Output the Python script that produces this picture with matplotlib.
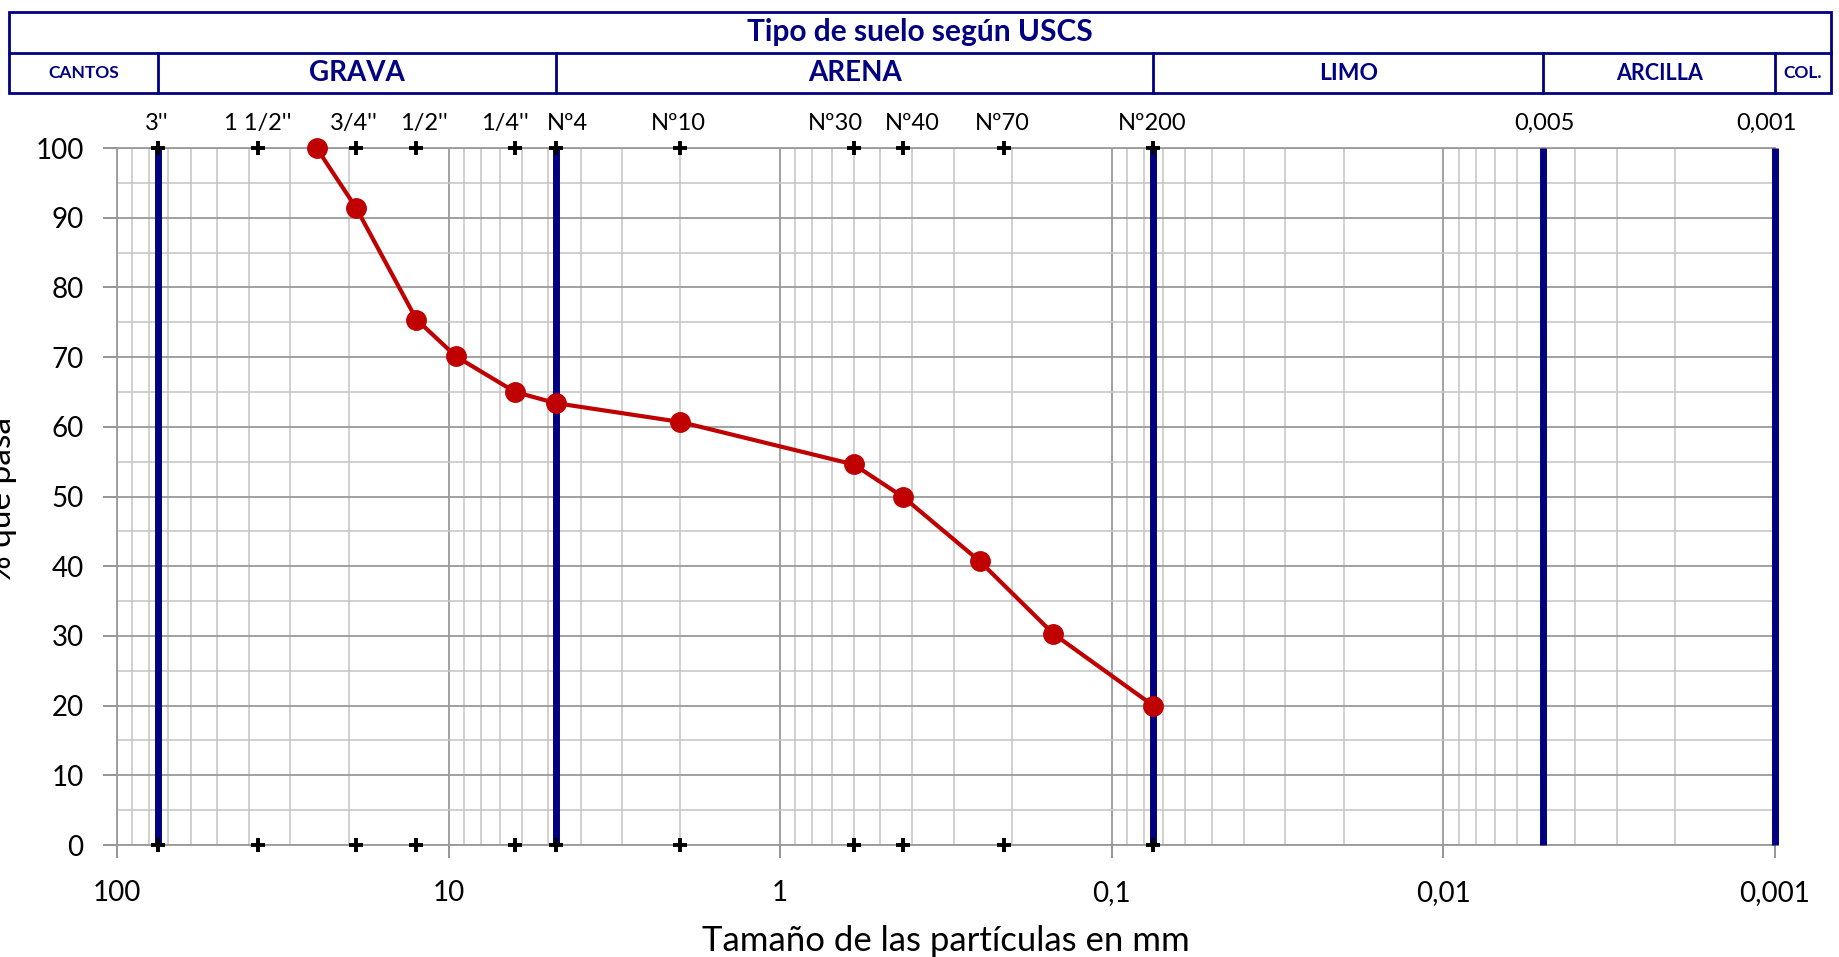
#!/usr/bin/env python3
# -*- coding: utf-8 -*-
# Curva granulométrica con la clasificación USCS en la cabecera

import numpy as np
import matplotlib
matplotlib.use("Agg")
import matplotlib.pyplot as plt
from matplotlib.ticker import FixedLocator, FixedFormatter, LogLocator, NullFormatter
from matplotlib.patches import Rectangle

plt.rcParams['font.family'] = ['Lato', 'DejaVu Sans']

# datos del ensayo
diametros = [25, 19, 12.5, 9.5, 6.3, 4.75, 2.0, 0.6, 0.425, 0.25, 0.15, 0.075]
pasa = [100, 91.4, 75.4, 70.1, 65.0, 63.4, 60.7, 54.6, 49.9, 40.7, 30.3, 20.0]

# tamices de referencia
tamices = [75, 37.5, 19, 12.5, 6.3, 4.75, 2.0, 0.6, 0.425, 0.212, 0.075]
nombres_tamices = ["3''", "1 1/2''", "3/4''", "1/2''", "1/4''", "Nº4", "Nº10",
                   "Nº30", "Nº40", "Nº70", "Nº200"]

# limites USCS
limites = [75, 4.75, 0.075, 0.005, 0.001]
nombres_limites = ["0,005", "0,001"]
suelos = ["CANTOS", "GRAVA", "ARENA", "LIMO", "ARCILLA", "COL."]
tam_suelos = [12.5, 20, 20, 16.5, 15.5, 12.5]

x_ticks = [100, 10, 1, 0.1, 0.01, 0.001]
x_labels = ["100", "10", "1", "0,1", "0,01", "0,001"]

AZUL = '#000080'
ROJO = '#c00000'

fig = plt.figure(figsize=(18.4, 9.57), dpi=100)
ax = fig.add_axes([0.0636, 0.1170, 0.9011, 0.7283])

ax.set_xscale('log')
ax.set_xlim(100, 0.001)
ax.set_ylim(0, 100)

ax.xaxis.set_major_locator(FixedLocator(x_ticks))
ax.xaxis.set_major_formatter(FixedFormatter(x_labels))
ax.xaxis.set_minor_locator(LogLocator(base=10, subs=np.arange(2, 10)))
ax.xaxis.set_minor_formatter(NullFormatter())
ax.set_yticks(np.arange(0, 101, 10))
ax.set_yticks(np.arange(5, 100, 10), minor=True)

ax.grid(which='major', color='#9a9a9a', lw=1.3)
ax.grid(which='minor', color='#c4c4c4', lw=1.1)
ax.set_axisbelow(True)

ax.tick_params(axis='both', which='major', labelsize=20, color='#8c8c8c', width=1.3)
ax.tick_params(axis='x', which='major', length=9, pad=16)
ax.tick_params(axis='y', which='major', length=10, pad=14)
ax.tick_params(which='minor', length=0)
for lado in ['left', 'bottom', 'top']:
    ax.spines[lado].set_color('#9a9a9a')
    ax.spines[lado].set_linewidth(1.3)
ax.spines['right'].set_visible(False)

# lineas de limite USCS
ax.vlines(limites, 0, 100, color=AZUL, lw=5, zorder=3, clip_on=False)

# cruces de tamices arriba y abajo
for yy in (0, 100):
    ax.plot(tamices, [yy] * len(tamices), '+', color='black', ms=10, mew=2.8,
            zorder=5, clip_on=False)

# curva granulometrica
ax.plot(diametros, pasa, '-o', color=ROJO, lw=3, ms=14, zorder=6, clip_on=False)

# etiquetas de tamices (desplazamiento en px)
desp = [-2, -1, -2, 7, -10, 12, -2, -18, 9, -1, -1]
for t, nom, d in zip(tamices, nombres_tamices, desp):
    ax.annotate(nom, (t, 100), xytext=(d * 0.72, 10), textcoords='offset points',
                ha='center', va='bottom', fontsize=17, annotation_clip=False)
for t, nom, d in zip(limites[3:], nombres_limites, [1, -9]):
    ax.annotate(nom, (t, 100), xytext=(d * 0.72, 10), textcoords='offset points',
                ha='center', va='bottom', fontsize=17, annotation_clip=False)

ax.set_xlabel("Tamaño de las partículas en mm", fontsize=25, labelpad=14)
fig.text(0.009, 0.478, "% que pasa", rotation=90, ha='right', va='center', fontsize=24)

# cabecera USCS
def fx(v):
    return fig.transFigure.inverted().transform(ax.transData.transform((v, 0)))[0]

izq, der = 0.005, 0.995
arriba, medio, abajo = 0.9875, 0.9446, 0.9028
fig.patches.append(Rectangle((izq, abajo), der - izq, arriba - abajo, fill=False,
                             edgecolor=AZUL, lw=2, transform=fig.transFigure))
fig.add_artist(plt.Line2D([izq, der], [medio, medio], color=AZUL, lw=2,
                          transform=fig.transFigure))
bordes = [izq] + [fx(v) for v in limites] + [der]
for b in bordes[1:-1]:
    fig.add_artist(plt.Line2D([b, b], [abajo, medio], color=AZUL, lw=2,
                              transform=fig.transFigure))
for i, (nom, tam) in enumerate(zip(suelos, tam_suelos)):
    fig.text((bordes[i] + bordes[i + 1]) / 2, (medio + abajo) / 2, nom, color=AZUL,
             fontsize=tam, fontweight='bold', ha='center', va='center')
fig.text((izq + der) / 2, (arriba + medio) / 2, "Tipo de suelo según USCS", color=AZUL,
         fontsize=21.5, fontweight='bold', ha='center', va='center')

fig.savefig("out.png", dpi=100)
